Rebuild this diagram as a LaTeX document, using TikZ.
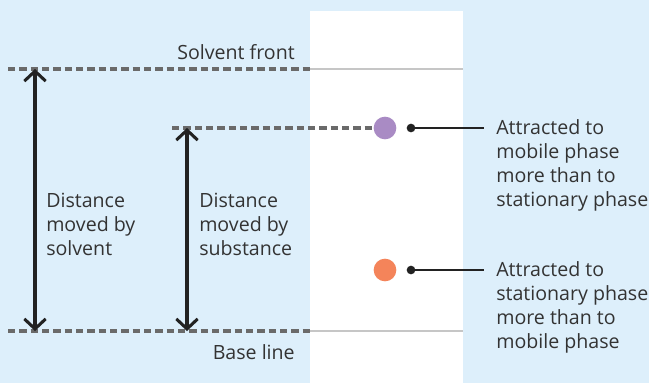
\documentclass[tikz,border=0pt]{standalone}
\usepackage{fontspec}
\setmainfont{Open Sans}
\usetikzlibrary{arrows.meta}
\definecolor{bgblue}{HTML}{DDEFFB}
\definecolor{txt}{HTML}{333333}
\definecolor{dashgray}{HTML}{6A6A6A}
\definecolor{lightgray}{HTML}{C6C6C6}
\definecolor{spotpurple}{HTML}{A98BC4}
\definecolor{spotorange}{HTML}{F4845A}
\definecolor{ink}{HTML}{222222}
\tikzset{
  lbl/.style={font=\fontsize{14.7}{17.8}\selectfont, text=txt, inner sep=0pt, align=left},
  dashline/.style={dashgray, line width=2.4pt, dash pattern=on 5.5pt off 3pt},
  plateline/.style={lightgray, line width=1.8pt},
  measure/.style={ink, line width=2.3pt, {Straight Barb[length=7.5pt,width=16pt]}-{Straight Barb[length=7.5pt,width=16pt]}},
  spot/.style={circle, inner sep=0pt, minimum size=17pt},
  pin/.style={ink, line width=1.5pt},
  pindot/.style={circle, fill=ink, inner sep=0pt, minimum size=6.5pt},
}
\begin{document}
\begin{tikzpicture}[x=0.75pt,y=-0.75pt]
\fill[bgblue] (0,0) rectangle (649,383);
\useasboundingbox (0,0) rectangle (649,383);
\fill[white] (310,11) rectangle (463,383);
% plate lines
\coordinate (sfL) at (8,69);
\coordinate (sfM) at (310,69);
\coordinate (sfR) at (463,69);
\coordinate (blL) at (8,331);
\coordinate (blM) at (310,331);
\coordinate (blR) at (463,331);
\draw[plateline] (sfM) -- (sfR);
\draw[plateline] (blM) -- (blR);
\draw[dashline] (sfL) -- (sfM);
\draw[dashline] (blL) -- (blM);
% spots
\node[spot, fill=spotpurple] (p) at (385,128) {};
\node[spot, fill=spotorange] (o) at (385,270) {};
\coordinate (subL) at (172,128);
\draw[dashline] (subL) -- (p.west);
% measuring arrows
\coordinate (a1t) at (35,69);
\coordinate (a1b) at (35,331);
\coordinate (a2t) at (187,128);
\coordinate (a2b) at (187,331);
\draw[measure] (a1t) -- (a1b);
\draw[measure] (a2t) -- (a2b);
% labels (base anchor = baseline of last line)
\node[lbl, anchor=base east] (sf) at (295,59) {Solvent front};
\node[lbl, anchor=base east] (bl) at (295,359) {Base line};
\node[lbl, anchor=base west] (d1) at (46,255) {Distance\\moved by\\solvent};
\node[lbl, anchor=base west] (d2) at (199,255) {Distance\\moved by\\substance};
% pins
\node[pindot] (pd1) at (411,128) {};
\node[pindot] (pd2) at (411,270) {};
\node[lbl, anchor=base west] (t1) at (496,206) {Attracted to\\mobile phase\\more than to\\stationary phase};
\node[lbl, anchor=base west] (t2) at (496,348) {Attracted to\\stationary phase\\more than to\\mobile phase};
\coordinate (e1) at (484,128);
\coordinate (e2) at (484,270);
\draw[pin] (pd1.center) -- (e1);
\draw[pin] (pd2.center) -- (e2);
\end{tikzpicture}
\end{document}
